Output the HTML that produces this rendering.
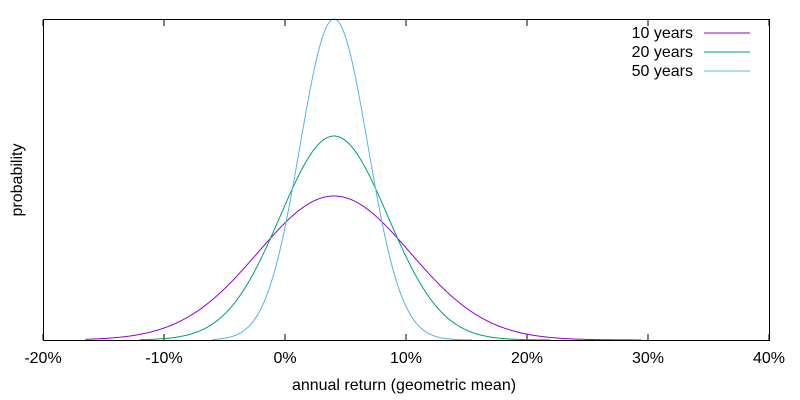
<!DOCTYPE html>
<html><head><meta charset="utf-8"><style>
body{margin:0;background:#fff}
svg{display:block;font-family:"Liberation Sans",sans-serif;font-size:16px}
</style></head><body>
<svg id="s" width="800" height="400" xmlns="http://www.w3.org/2000/svg">
<rect x="0" y="0" width="800" height="400" fill="#fff"/>
<g id="ticks" stroke="#000" stroke-width="1"></g>
<g id="curves" fill="none" stroke-width="1"></g>
<rect x="43.5" y="19.5" width="726" height="321" fill="none" stroke="#000"/>
<g text-anchor="middle">
<text x="43" y="363">-20%</text><text x="164" y="363">-10%</text><text x="285" y="363">0%</text>
<text x="406" y="363">10%</text><text x="527" y="363">20%</text><text x="648" y="363">30%</text>
<text x="769" y="363">40%</text>
<text x="404" y="390">annual return (geometric mean)</text>
</g>
<text transform="translate(22,180) rotate(-90)" text-anchor="middle">probability</text>
<g text-anchor="end">
<text x="693" y="38">10 years</text><text x="693" y="57">20 years</text><text x="693" y="76">50 years</text>
</g>
<line x1="704" y1="33" x2="750" y2="33" stroke="#9400d3"/>
<line x1="704" y1="52" x2="750" y2="52" stroke="#009e73"/>
<line x1="704" y1="71" x2="750" y2="71" stroke="#56b4e9"/>
</svg>
<script>
var ns="http://www.w3.org/2000/svg";
function X(p){return 285+p*12.1}
var base=340,mu=4.05;
var T=document.getElementById('ticks');
for(var p=-20;p<=40;p+=10){var x=X(p);
 var l=document.createElementNS(ns,'line');l.setAttribute('x1',x);l.setAttribute('x2',x);l.setAttribute('y1',340);l.setAttribute('y2',334);T.appendChild(l);
 l=document.createElementNS(ns,'line');l.setAttribute('x1',x);l.setAttribute('x2',x);l.setAttribute('y1',20);l.setAttribute('y2',26);T.appendChild(l);}
var C=document.getElementById('curves');
[[6.3,144,-16.5,29.5,'#9400d3'],[4.45,204,-12,22,'#009e73'],[2.8,321,-6,15.5,'#56b4e9']].forEach(function(c){
 var d='';for(var p=c[2];p<=c[3];p+=0.05){var y=base-c[1]*Math.exp(-Math.pow(p-mu,2)/(2*c[0]*c[0]));d+=(d?'L':'M')+X(p).toFixed(2)+','+y.toFixed(2);}
 var e=document.createElementNS(ns,'path');e.setAttribute('d',d);e.setAttribute('stroke',c[4]);C.appendChild(e);});
</script>
</body></html>
